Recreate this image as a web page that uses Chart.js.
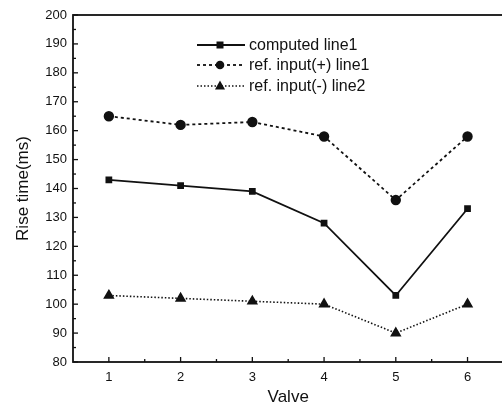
<!DOCTYPE html>
<html>
<head>
<meta charset="utf-8">
<script src="https://cdn.jsdelivr.net/npm/chart.js@4"></script>
<style>
  html, body { margin: 0; padding: 0; background: #fff; overflow: hidden; }
  canvas { display: block; }
</style>
</head>
<body>
<canvas id="riseChart" width="510" height="412"></canvas>
<script>
const valves = [1, 2, 3, 4, 5, 6];
const computedLine1 = [143, 141, 139, 128, 103, 133];
const refPlusLine1 = [165, 162, 163, 158, 136, 158];
const refMinusLine2 = [103, 102, 101, 100, 90, 100];
const yTicks = [80, 90, 100, 110, 120, 130, 140, 150, 160, 170, 180, 190, 200];

const ink = "#111";
const fontName = "'Liberation Sans', Arial, sans-serif";

function toPoints(values) {
    return valves.map((v, i) => ({ x: v, y: values[i] }));
}

// frame, inward ticks and the legend drawn by hand
const framePlugin = {
    id: "frame",
    afterDraw(chart) {
        const c = chart.ctx;
        const a = chart.chartArea;
        const xs = chart.scales.x;
        const ys = chart.scales.y;
        c.save();
        c.strokeStyle = ink;
        c.lineWidth = 1.8;
        c.strokeRect(a.left, a.top, a.right - a.left, a.bottom - a.top);

        c.lineWidth = 1.3;
        for (let v = 80; v <= 200; v += 5) {
            const y = ys.getPixelForValue(v);
            const len = v % 10 === 0 ? 5 : 3;
            c.beginPath();
            c.moveTo(a.left, y);
            c.lineTo(a.left + len, y);
            c.stroke();
        }
        for (let v = 1; v <= 6.5; v += 0.5) {
            const x = xs.getPixelForValue(v);
            const len = Number.isInteger(v) ? 5 : 3;
            c.beginPath();
            c.moveTo(x, a.bottom);
            c.lineTo(x, a.bottom - len);
            c.stroke();
        }

        // legend
        const rows = [45, 65, 86];
        c.font = "16px " + fontName;
        c.textBaseline = "middle";
        c.fillStyle = ink;
        chart.data.datasets.forEach((ds, i) => {
            const y = rows[i];
            c.strokeStyle = ink;
            c.lineWidth = ds.borderWidth;
            c.setLineDash(ds.borderDash || []);
            c.beginPath();
            c.moveTo(197, y);
            c.lineTo(245, y);
            c.stroke();
            c.setLineDash([]);
            const mx = 220, r = ds.pointRadius;
            c.beginPath();
            if (ds.pointStyle === "rect") {
                c.rect(mx - r, y - r, 2 * r, 2 * r);
            } else if (ds.pointStyle === "triangle") {
                c.moveTo(mx, y - r - 0.5);
                c.lineTo(mx + r, y + r * 0.7);
                c.lineTo(mx - r, y + r * 0.7);
                c.closePath();
            } else {
                c.arc(mx, y, r, 0, Math.PI * 2);
            }
            c.fill();
            c.fillText(ds.label, 249, y + 1);
        });
        c.restore();
    }
};

const ctx = document.getElementById("riseChart").getContext("2d");

const riseChart = new Chart(ctx, {
    type: "line",
    data: {
        datasets: [{
            label: "computed line1",
            data: toPoints(computedLine1),
            borderColor: ink,
            backgroundColor: ink,
            borderWidth: 1.8,
            pointStyle: "rect",
            pointRadius: 3.5
        }, {
            label: "ref. input(+) line1",
            data: toPoints(refPlusLine1),
            borderColor: ink,
            backgroundColor: ink,
            borderWidth: 1.8,
            borderDash: [3, 3],
            pointStyle: "circle",
            pointRadius: 4.3
        }, {
            label: "ref. input(-) line2",
            data: toPoints(refMinusLine2),
            borderColor: ink,
            backgroundColor: ink,
            borderWidth: 1.6,
            borderDash: [1.5, 2],
            pointStyle: "triangle",
            pointRadius: 5
        }]
    },
    options: {
        responsive: false,
        animation: false,
        layout: { padding: { top: 15, right: 2, left: 0, bottom: 0 } },
        plugins: {
            legend: { display: false },
            tooltip: { enabled: false }
        },
        scales: {
            x: {
                type: "linear",
                min: 0.5,
                max: 6.5,
                afterBuildTicks: scale => { scale.ticks = valves.map(v => ({ value: v })); },
                afterFit: scale => { scale.height = 50; },
                grid: { display: false, drawTicks: false },
                border: { display: false },
                ticks: {
                    color: ink,
                    padding: 8,
                    font: { family: fontName, size: 13 }
                },
                title: {
                    display: true,
                    text: "Valve",
                    color: ink,
                    padding: { top: 2 },
                    font: { family: fontName, size: 17 }
                }
            },
            y: {
                min: 80,
                max: 200,
                afterBuildTicks: scale => { scale.ticks = yTicks.map(v => ({ value: v })); },
                afterFit: scale => { scale.width = 73; },
                grid: { display: false, drawTicks: false },
                border: { display: false },
                ticks: {
                    color: ink,
                    padding: 6,
                    font: { family: fontName, size: 13 }
                },
                title: {
                    display: true,
                    text: "Rise time(ms)",
                    color: ink,
                    padding: { top: 13, bottom: 4 },
                    font: { family: fontName, size: 17 }
                }
            }
        }
    },
    plugins: [framePlugin]
});
</script>
</body>
</html>
